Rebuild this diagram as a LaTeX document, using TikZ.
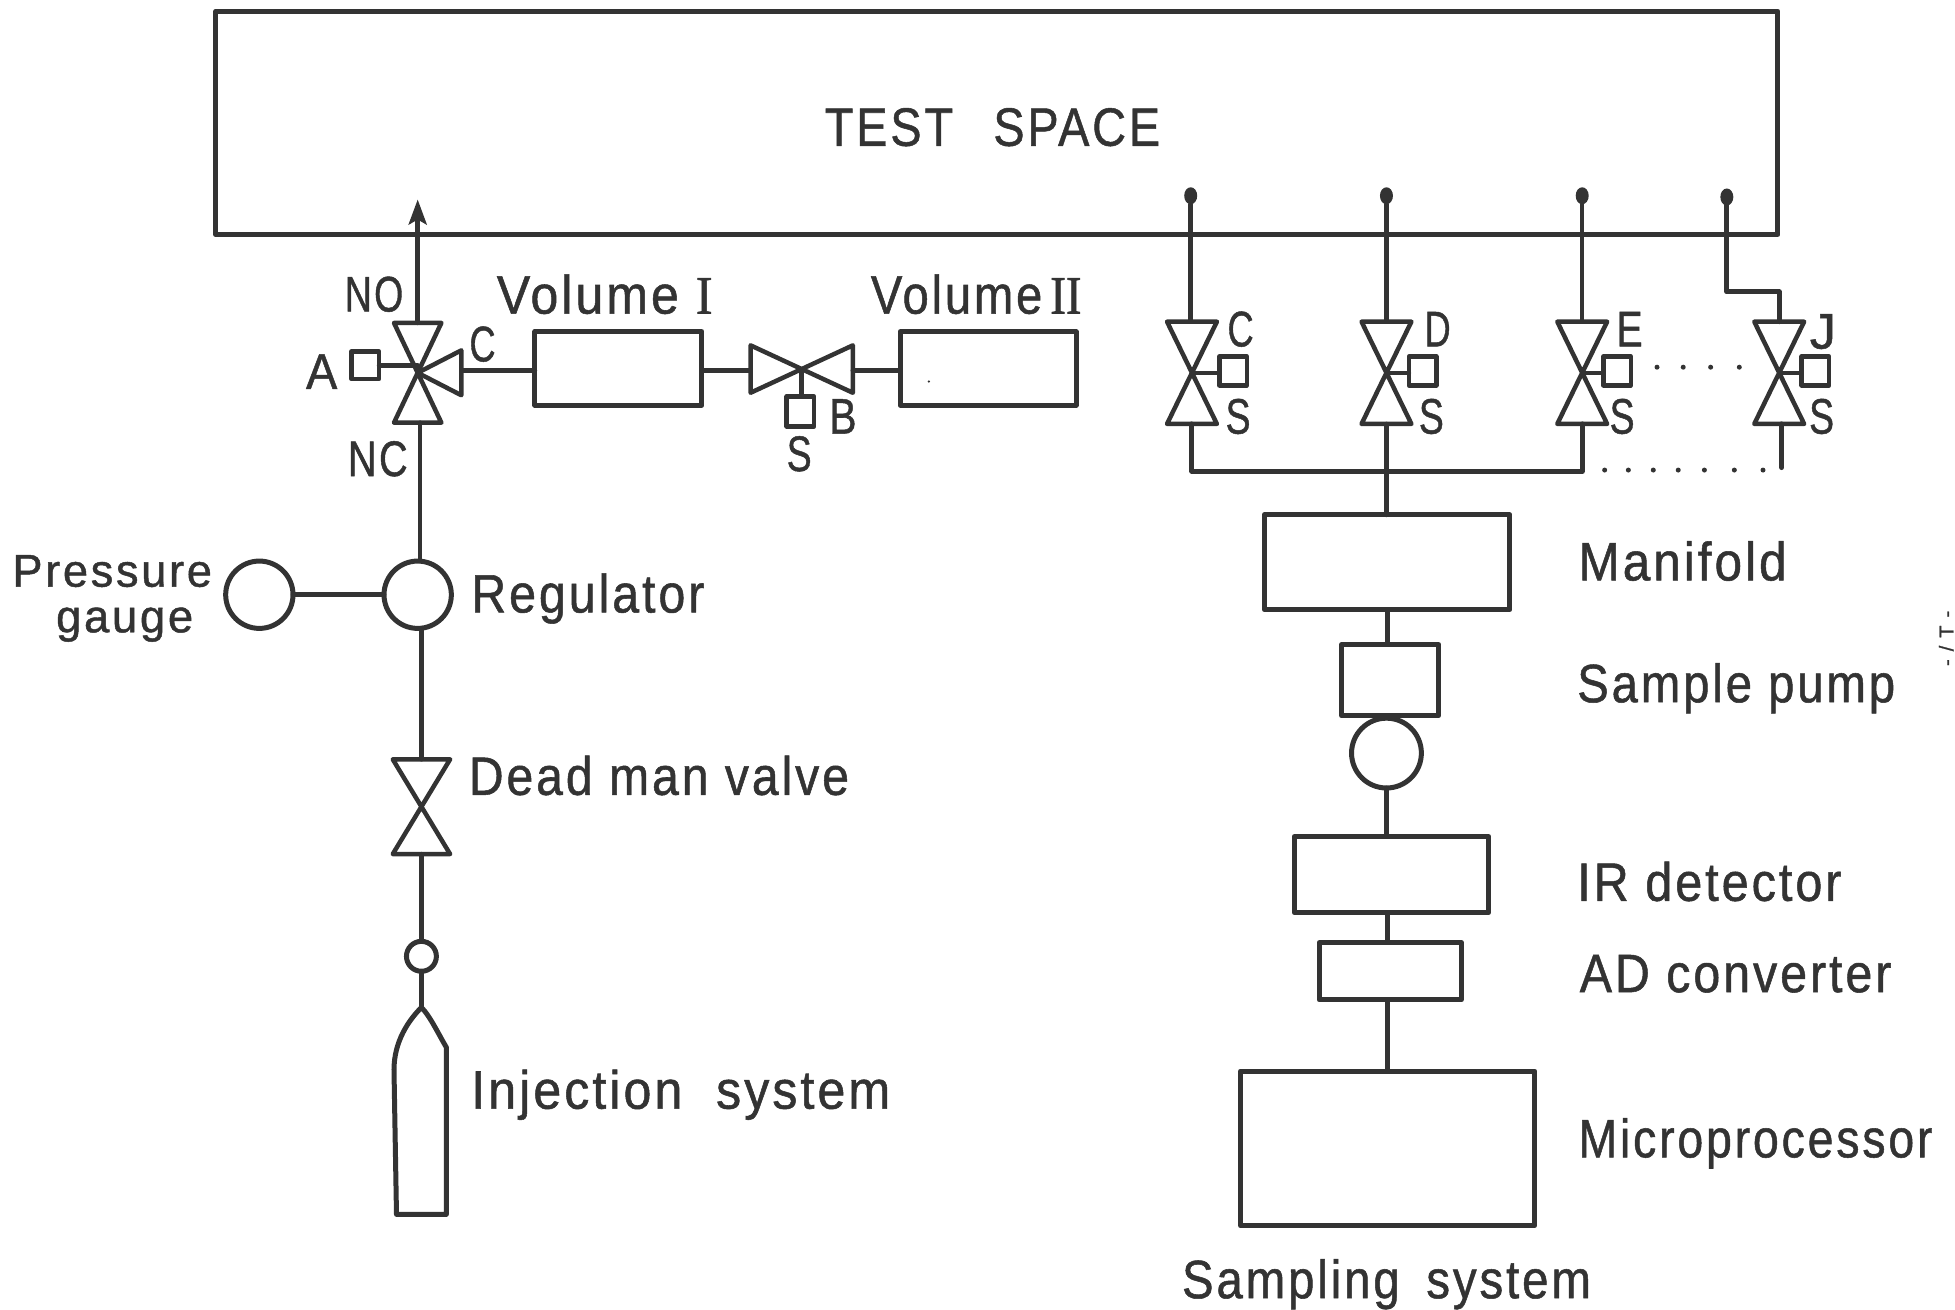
\documentclass[tikz,border=0pt]{standalone}
\usepackage{graphicx}
\usepackage{fontspec}
\setmainfont[LetterSpace=6,FakeBold=1]{Liberation Sans}
\newfontfamily\romfont[FakeBold=1.2]{Liberation Serif}
\usetikzlibrary{arrows.meta,fit,calc,shapes.geometric}
\definecolor{ink}{HTML}{333333}
\newlength{\unitlen}\setlength{\unitlen}{1.2468pt}
\newcommand{\fw}[2]{\resizebox{#1\unitlen}{\height}{#2}}
\tikzset{
  thin line/.style={draw=ink,line width=4.5pt,line cap=round,line join=round},
  thick line/.style={draw=ink,line width=5pt,line cap=round,line join=round},
  boxst/.style={draw=ink,line width=5pt,inner sep=0pt,outer sep=0pt,rectangle,line join=round},
  smallbox/.style={draw=ink,line width=4.5pt,inner sep=0pt,outer sep=0pt,rectangle,line join=round},
  ringst/.style={draw=ink,line width=5pt,inner sep=0pt,outer sep=0pt,circle},
  dotst/.style={fill=ink,inner sep=0pt,outer sep=0pt,ellipse,minimum width=13pt,minimum height=17pt},
  speck/.style={fill=ink,inner sep=0pt,outer sep=0pt,circle,minimum size=5pt},
  lab/.style={text=ink,inner sep=0pt,outer sep=0pt,font=\fontsize{54}{56}\selectfont},
  smalllab/.style={text=ink,inner sep=0pt,outer sep=0pt,font=\fontsize{50}{52}\selectfont},
  labw/.style={lab,anchor=west},
}
% name, x, y, half width, half height
\newcommand{\vlvV}[5]{%
  \coordinate (#1) at (#2,#3);
  \coordinate (#1t) at (#2,#3-#5);
  \coordinate (#1b) at (#2,#3+#5);
  \draw[thin line] (#2-#4,#3-#5) -- (#2+#4,#3-#5) -- (#2-#4,#3+#5) -- (#2+#4,#3+#5) -- cycle;
}
\newcommand{\sq}[5]{\node[smallbox,fit={(#2,#3)(#4,#5)}] (#1) {};}
\newcommand{\bx}[5]{\node[boxst,fit={(#2,#3)(#4,#5)}] (#1) {};}
\begin{document}
\begin{tikzpicture}[x=1.2468pt,y=-1.2468pt]
\useasboundingbox (0,0) rectangle (1568,1049.9);
% test space
\bx{test}{173}{9}{1426}{188}
\node[lab] (testlab) at (796,102) {\fw{269}{TEST\hspace{28pt} SPACE}};

% three-way valve
\vlvV{vA}{335}{299}{19}{40}
\coordinate (vAr1) at (370,281);
\coordinate (vAr2) at (370,317);
\coordinate (vAr) at (370,297);
\draw[thin line] (vA) -- (vAr1) -- (vAr2) -- cycle;
\sq{sqA}{282}{282}{304}{304}
\draw[thin line] (sqA.east) -- (sqA.east -| vA);
\coordinate (arrowtip) at (335,160);
\draw[thin line,-{Stealth[length=25pt,width=18pt,inset=5pt]}] (vAt) -- (arrowtip);

% volumes
\bx{vol1}{429}{266}{563}{325}
\bx{vol2}{722}{266}{863}{325}
\draw[thin line] (vAr) -- (vAr -| vol1.west);
\coordinate (vB) at (643,297);
\coordinate (vBl) at (602,297);
\coordinate (vBr) at (684,297);
\draw[thin line] (602,277) -- (602,315) -- (684,277) -- (684,315) -- cycle;
\draw[thin line] (vBl -| vol1.east) -- (vBl);
\draw[thin line] (vBr) -- (vBr -| vol2.west);
\sq{sqB}{631}{318}{653}{342}
\draw[thin line] (vB) -- (vB |- sqB.north);
\node[speck,minimum size=2.5pt] (specka) at (745,306) {};

% labels round top left
\node[smalllab] (lNO) at (300,236) {\fw{47}{NO}};
\node[lab] (lV1) at (485,236) {\fw{173}{Volume {\romfont I}}};
\node[lab] (lV2) at (783,236) {\fw{169}{Volume{\romfont\,II}}};
\node[smalllab] (lA) at (258,298) {\fw{25}{A}};
\node[smalllab] (lC) at (387,276) {\fw{21}{C}};
\node[smalllab] (lB) at (676,334) {\fw{22}{B}};
\node[smalllab] (lS) at (641,364) {\fw{20}{S}};
\node[smalllab] (lNC) at (303,368) {\fw{48}{NC}};

% left column
\node[ringst,minimum size=54\unitlen] (reg) at (335,477) {};
\node[ringst,minimum size=54\unitlen] (gauge) at (208,477) {};
\draw[thin line] (gauge) -- (reg);
\coordinate (ncl) at (337,339);
\draw[thin line] (ncl) -- (ncl |- reg.north);
\node[lab,font=\fontsize{46}{48}\selectfont] (lPG1) at (90,458) {\fw{160}{Pressure}};
\node[lab,font=\fontsize{46}{48}\selectfont] (lPG2) at (100,501) {\fw{110}{gauge}};
\node[labw] (lReg) at (378,480) {\fw{187}{Regulator}};
\vlvV{dead}{338}{647}{23}{38}
\draw[thin line] (deadt |- reg.south) -- (deadt);
\node[labw] (lDead) at (376,622) {\fw{305}{Dead man valve}};
\node[ringst,minimum size=24\unitlen] (small) at (338,767) {};
\draw[thin line] (deadb) -- (small.north);
\coordinate (bottletop) at (338,808);
\draw[thin line] (small.south) -- (bottletop);
\draw[thick line] (318,974) -- (316,858) .. controls (316,835) and (328,818) .. (bottletop) .. controls (345,815) and (352,830) .. (358,840) -- (358,974) -- cycle;
\node[labw] (lInj) at (378,878) {\fw{336}{Injection\hspace{18pt} system}};

% right: sampling valves
\foreach \nm/\xv/\sx/\lx/\ly/\sxx/\txt in {
 C/956/978/995/264/993/C,
 D/1112/1130/1153/264/1148/D,
 E/1269/1286/1307/264/1301/E,
 J/1427/1445/1462/266/1461/J}{
  \vlvV{v\nm}{\xv}{299}{20}{41}
  \sq{sq\nm}{\sx}{286}{\sx+22}{309}
  \draw[thin line] (v\nm) -- (sq\nm.west |- v\nm);
  \node[smalllab] (lab\nm) at (\lx,\ly) {\fw{21}{\txt}};
  \node[smalllab] (labS\nm) at (\sxx,334) {\fw{20}{S}};
}
\node[dotst] (tipC) at (955,157) {};
\node[dotst] (tipD) at (1112,157) {};
\node[dotst] (tipE) at (1269,157) {};
\node[dotst] (tipJ) at (1385,158) {};
\draw[thin line] (tipC) -- (tipC |- vCt);
\draw[thin line] (tipD) -- (vDt);
\draw[thin line] (tipE) -- (vEt);
\draw[thick line] (tipJ) |- (1427,234) -- (vJt);
\coordinate (hdrL) at (956,378);
\coordinate (hdrR) at (1269,378);
\coordinate (hdrJ) at (1429,375);
\draw[thick line] (vCb) -- (hdrL) -- (hdrR) -- (vEb);
\draw[thick line] (1429,340) -- (hdrJ);

\foreach \xd [count=\i] in {1329,1350,1372,1395}{\node[speck] (dotu\i) at (\xd,294.5) {};}
\foreach \xd [count=\i] in {1287,1306,1326,1346,1367,1391,1414}{\node[speck] (dotl\i) at (\xd,377) {};}

% instrument chain
\bx{mani}{1014}{413}{1211}{489}
\bx{pump}{1076}{517}{1154}{574}
\node[ringst,minimum size=56\unitlen] (pumpc) at (1112,604) {};
\bx{ir}{1038}{671}{1194}{732}
\bx{ad}{1058}{756}{1172}{802}
\bx{micro}{995}{859}{1231}{983}
\draw[thin line] (vDb) -- (vDb |- mani.north);
\draw[thin line] (1113,489) -- (1113,517);
\draw[thin line] (pumpc.south) -- (pumpc.south |- ir.north);
\draw[thin line] (1113,732) -- (1113,756);
\draw[thin line] (1113,802) -- (1113,859);
\node[labw] (lMani) at (1266,450) {\fw{167}{Manifold}};
\node[labw] (lPump) at (1265,552) {\fw{255}{Sample pump}};
\node[labw] (lIR) at (1265,707) {\fw{212}{IR detector}};
\node[labw] (lAD) at (1267,781) {\fw{250}{AD converter}};
\node[labw] (lMicro) at (1266,917) {\fw{284}{Microprocessor}};
\node[lab] (lSamp) at (1112,1030) {\fw{328}{Sampling\hspace{12pt} system}};
\node[text=ink,inner sep=0pt,rotate=90,font=\fontsize{20}{22}\selectfont] (lPage) at (1561,512) {-\hspace{8pt}/\hspace{8pt}T\hspace{8pt}-};
\end{tikzpicture}
\end{document}
